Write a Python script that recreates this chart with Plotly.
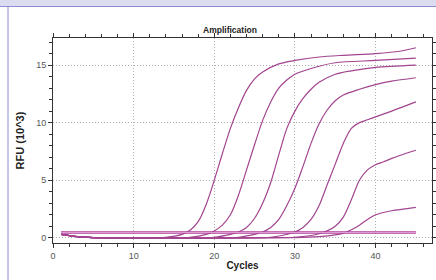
import plotly.graph_objects as go

# ---- data ----
c1_x = [1, 3, 5, 10, 14, 16, 17, 18, 19, 20, 21, 22, 23, 24, 25, 26, 28, 30, 33, 36, 40, 43, 45]
c1_y = [0.3, 0.1, 0.02, 0.0, 0.05, 0.3, 0.65, 1.4, 2.9, 5.0, 7.3, 9.5, 11.3, 12.8, 13.8, 14.4, 15.1, 15.4, 15.7, 15.85, 16.0, 16.2, 16.5]

c2_x = [1, 3, 5, 10, 17, 19, 20, 21, 22, 23, 24, 25, 26, 27, 28, 29, 30, 32, 35, 40, 45]
c2_y = [0.3, 0.1, 0.02, 0.0, 0.05, 0.3, 0.6, 1.1, 2.0, 3.7, 5.9, 8.1, 10.2, 11.8, 13.0, 13.7, 14.2, 14.7, 15.2, 15.4, 15.6]

c3_x = [1, 3, 5, 10, 20, 22, 23, 24, 25, 26, 27, 28, 29, 30, 31, 32, 33, 35, 37, 40, 45]
c3_y = [0.3, 0.1, 0.02, 0.0, 0.05, 0.3, 0.5, 0.9, 1.7, 3.0, 4.8, 7.2, 9.5, 11.0, 12.1, 12.9, 13.5, 14.2, 14.5, 14.8, 15.0]

c4_x = [1, 3, 5, 10, 23, 25, 26, 27, 28, 29, 30, 31, 32, 33, 34, 35, 36, 38, 40, 42, 45]
c4_y = [0.3, 0.1, 0.02, 0.0, 0.05, 0.3, 0.5, 0.9, 1.6, 2.8, 4.3, 6.2, 8.2, 9.9, 11.1, 11.9, 12.4, 12.9, 13.3, 13.6, 13.9]

c5_x = [1, 3, 5, 10, 27, 29, 30, 31, 32, 33, 34, 35, 36, 37, 38, 39, 40, 42, 45]
c5_y = [0.3, 0.1, 0.02, 0.0, 0.05, 0.3, 0.5, 0.9, 1.6, 2.8, 4.6, 6.4, 8.2, 9.5, 10.0, 10.25, 10.5, 11.0, 11.8]

c6_x = [1, 3, 5, 10, 30, 32, 33, 34, 35, 36, 37, 38, 39, 40, 41, 42, 43, 45]
c6_y = [0.3, 0.1, 0.02, 0.0, 0.05, 0.2, 0.35, 0.6, 1.0, 1.8, 3.3, 5.0, 5.9, 6.35, 6.6, 6.9, 7.15, 7.6]

c7_x = [1, 3, 5, 10, 30, 33, 35, 36, 37, 38, 39, 40, 41, 42, 43, 45]
c7_y = [0.3, 0.1, 0.02, 0.0, 0.02, 0.1, 0.25, 0.4, 0.7, 1.1, 1.6, 2.0, 2.2, 2.35, 2.45, 2.65]

threshold_x = [1, 45]
threshold_y = [0.46, 0.46]

curves = [(c1_x, c1_y), (c2_x, c2_y), (c3_x, c3_y), (c4_x, c4_y),
          (c5_x, c5_y), (c6_x, c6_y), (c7_x, c7_y)]

x_ticks = [0, 10, 20, 30, 40]
y_ticks = [0, 5, 10, 15]

fig = go.Figure()
for cx, cy in curves:
    fig.add_trace(go.Scatter(x=cx, y=cy, mode="lines",
                             line=dict(color="#a2448f", width=1.2, shape="spline", smoothing=0.8),
                             showlegend=False, hoverinfo="skip"))
fig.add_trace(go.Scatter(x=threshold_x, y=threshold_y, mode="lines",
                         line=dict(color="#b13e9e", width=2.6), showlegend=False, hoverinfo="skip"))
fig.add_trace(go.Scatter(x=threshold_x, y=threshold_y, mode="lines",
                         line=dict(color="#e9b6e0", width=0.8), showlegend=False, hoverinfo="skip"))

L, R, T, B = 53, 4, 38, 37
W, H = 436, 280
pw, ph = W - L - R, H - T - B

def px(xp):
    return (xp - L) / pw

def py(yp):
    return (H - B - yp) / ph

axis_common = dict(
    showline=True, linecolor="#333", linewidth=1, mirror="allticks",
    ticks="outside", ticklen=4, tickcolor="#333", tickwidth=1,
    showgrid=True, gridcolor="#b0b0b0", griddash="1px,2px", gridwidth=1,
    zeroline=False, automargin=False,
    tickfont=dict(family="Liberation Sans, Arial", size=9, color="#555"),
)

fig.update_xaxes(range=[0, 47], tickvals=x_ticks,
                 minor=dict(dtick=2, tick0=0, ticks="outside", ticklen=3, tickcolor="#333", showgrid=False),
                 title=dict(text="<b>Cycles</b>", font=dict(family="Liberation Sans, Arial", size=10, color="#222"), standoff=2),
                 **axis_common)
fig.update_yaxes(range=[-0.45, 17.35], tickvals=y_ticks,
                 minor=dict(dtick=1, tick0=0, ticks="outside", ticklen=3, tickcolor="#333", showgrid=False),
                 title=dict(text="<b>RFU (10^3)</b>", font=dict(family="Liberation Sans, Arial", size=11, color="#222"), standoff=9),
                 **axis_common)

fig.update_layout(
    width=W, height=H,
    margin=dict(l=L, r=R, t=T, b=B, autoexpand=False),
    paper_bgcolor="white", plot_bgcolor="white",
    title=dict(text="<b>Amplification</b>", font=dict(family="Liberation Sans, Arial", size=8.5, color="#222"),
               x=0.467, xref="paper", xanchor="center", y=1 - 30 / H, yanchor="middle"),
    shapes=[
        dict(type="rect", xref="paper", yref="paper", x0=px(0), x1=px(W), y0=py(6.5), y1=py(0),
             fillcolor="#dcdcf0", line=dict(width=0), layer="below"),
        dict(type="line", xref="paper", yref="paper", x0=px(0), x1=px(W), y0=py(6.5), y1=py(6.5),
             line=dict(color="#8c8cd0", width=1)),
        dict(type="line", xref="paper", yref="paper", x0=px(8), x1=px(8), y0=py(6.5), y1=py(H),
             line=dict(color="#8c8cd0", width=1)),
    ],
)

fig.write_html("out.html", config={"displayModeBar": False},
               post_script="document.body.style.margin='0';document.body.style.padding='0';document.body.style.overflow='hidden';")
